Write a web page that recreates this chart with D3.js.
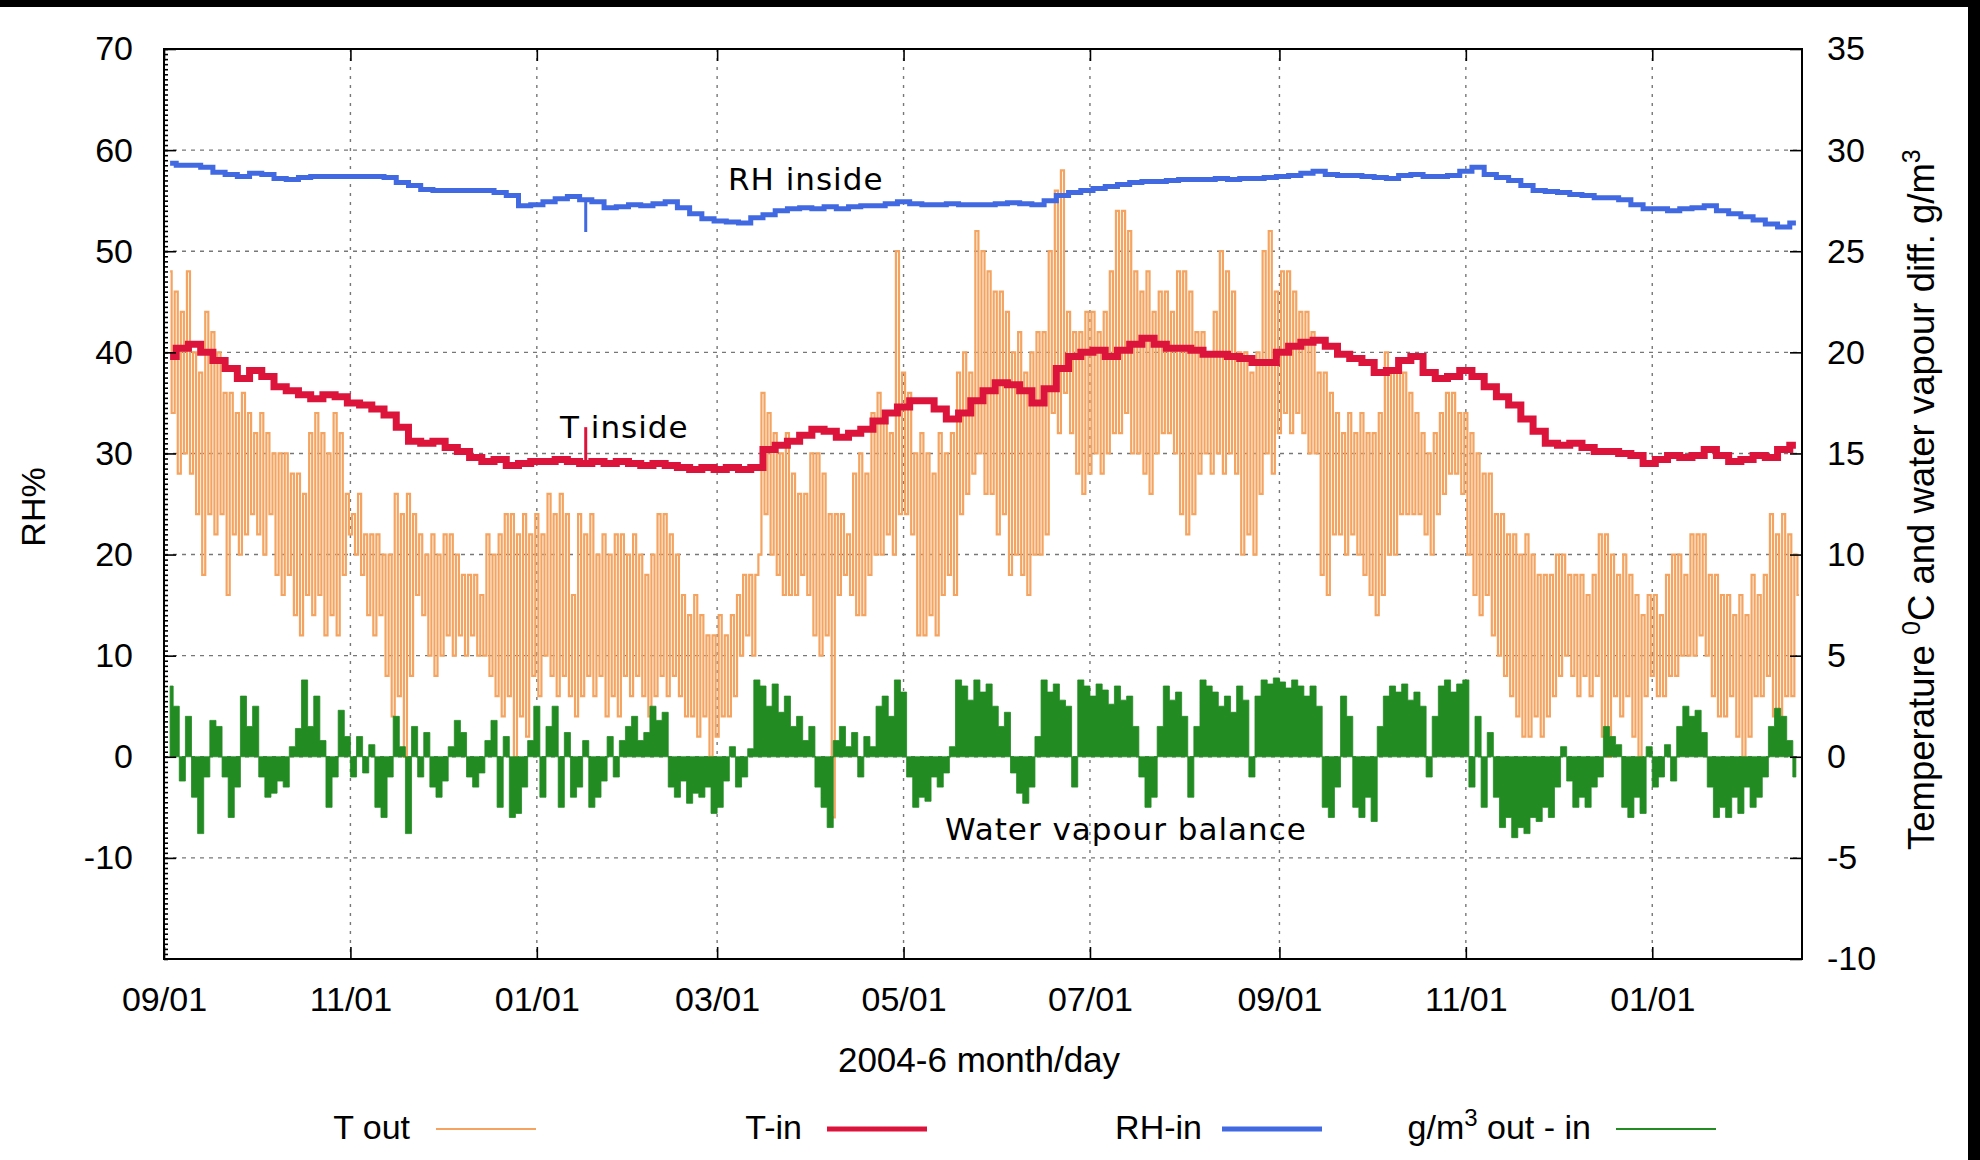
<!DOCTYPE html>
<html>
<head>
<meta charset="utf-8">
<script src="https://cdn.jsdelivr.net/npm/d3@7"></script>
<style>
  body { margin: 0; background: #fff; }
  text { font-family: "Liberation Sans", Arial, sans-serif; fill: #000; }
  text.note { font-family: "DejaVu Sans", sans-serif; }
</style>
</head>
<body>
<svg id="chart" width="1980" height="1160"></svg>
<script>
// series start 2004-09-03, tOut one value per day, vapour every 2 days, tIn / rhIn every 4 days
var seriesStart = Date.UTC(2004, 8, 3)
var DAY = 86400000

var tOut = [
  24,17,23,14,22,15,24,14,
  20,12,19,9,22,12,21,11,20,12,
  18,8,18,11,17,10,18,11,17,12,
  16,11,17,10,16,12,15,9,15,8,
  15,9,14,7,14,6,13,8,16,7,
  17,8,16,6,15,7,17,6,16,9,
  13,11,12,10,13,9,11,7,11,6,
  11,7,10,4,10,2,13,3,12,0,
  13,4,12,8,11,7,10,5,11,4,
  10,5,11,6,11,5,10,6,9,5,
  9,6,9,5,8,5,11,4,10,3,
  11,2,12,3,12,0,11,2,12,1,
  11,4,12,3,11,5,13,4,12,3,
  13,4,12,3,8,2,12,3,11,4,
  12,3,10,4,11,2,10,3,11,2,
  11,4,10,3,11,4,10,3,9,2,
  10,3,12,4,12,3,11,4,10,3,
  8,2,7,2,8,1,7,2,6,0,
  6,1,7,2,6,2,7,3,8,5,
  9,6,9,5,9,10,18,12,17,10,
  16,9,15,8,16,8,14,8,13,9,
  13,8,15,6,15,5,14,6,12,-3,
  12,8,12,9,11,8,14,7,15,7,
  14,9,17,10,18,10,17,11,16,10,
  25,12,19,12,18,11,15,6,16,6,
  15,7,14,6,16,8,15,9,16,8,
  19,12,20,13,19,14,26,15,25,13,
  24,13,23,11,23,12,22,9,20,10,
  21,9,19,8,20,10,21,10,21,11,
  25,17,28,16,29,18,22,16,21,14,
  21,13,22,14,22,15,21,14,22,15,
  24,16,27,16,27,17,26,15,24,15,
  23,14,24,13,22,15,23,16,23,16,
  22,15,24,12,24,11,23,12,21,14,
  21,15,20,14,22,15,25,14,24,15,
  23,14,20,10,20,11,19,10,20,13,
  25,15,26,14,23,16,24,17,24,16,
  23,17,22,16,22,15,21,15,19,9,
  19,8,18,11,17,11,16,10,17,11,
  16,10,17,9,16,8,16,7,17,8,
  20,10,19,10,19,12,19,12,18,12,
  17,12,16,11,15,10,16,12,17,13,
  18,14,18,14,17,13,17,10,16,8,
  15,7,14,8,14,6,12,5,12,4,
  11,3,11,2,10,1,11,1,10,2,
  9,1,9,2,9,3,10,4,10,5,
  9,4,9,3,9,4,8,3,9,4,
  11,1,11,0,10,3,9,2,10,3,
  9,1,8,0,7,3,8,4,8,3,
  7,3,9,4,10,4,10,5,9,5,
  11,5,11,6,11,5,9,3,9,2,
  8,2,8,3,7,1,8,0,7,1,
  9,3,8,3,9,4,12,2,11,1,
  12,3,11,3,10,8
]

var tIn = [
  19.8,20.2,20.4,20,19.6,19.2,18.7,19.1,18.8,18.3,
  18.1,17.9,17.7,17.9,17.8,17.5,17.4,17.2,16.9,16.3,
  15.6,15.5,15.6,15.3,15.1,14.8,14.6,14.7,14.4,14.5,
  14.6,14.6,14.7,14.6,14.5,14.6,14.5,14.6,14.5,14.4,
  14.5,14.4,14.3,14.2,14.3,14.2,14.3,14.2,14.3,15.2,
  15.4,15.6,15.9,16.2,16.1,15.8,16,16.2,16.6,17,
  17.3,17.6,17.6,17.2,16.7,17,17.6,18.1,18.5,18.4,
  18.1,17.5,18.2,19.2,19.8,20,20.1,19.8,20.1,20.4,
  20.7,20.4,20.2,20.2,20.1,19.9,19.9,19.8,19.7,19.5,
  19.5,20,20.3,20.5,20.6,20.3,19.9,19.7,19.5,19,
  19.1,19.6,19.8,19,18.7,18.8,19.1,18.8,18.3,17.8,
  17.4,16.7,16.1,15.5,15.4,15.5,15.3,15.1,15.1,15,
  14.9,14.5,14.7,14.9,14.8,14.9,15.2,14.9,14.6,14.7,
  14.9,14.8,15.2,15.4
]

var rhIn = [
  58.7,58.5,58.5,58.3,57.8,57.6,57.4,57.7,57.6,57.2,
  57.1,57.3,57.4,57.4,57.4,57.4,57.4,57.4,57.3,56.8,
  56.5,56.1,56,56,56,56,56,55.8,55.5,54.5,
  54.6,54.9,55.2,55.4,55.1,54.9,54.3,54.4,54.6,54.5,
  54.7,54.9,54.3,53.7,53.2,53,52.9,52.8,53.3,53.6,
  54,54.2,54.3,54.2,54.4,54.2,54.4,54.5,54.5,54.7,
  54.9,54.7,54.6,54.6,54.7,54.6,54.6,54.6,54.7,54.8,
  54.7,54.6,55,55.5,55.8,56,56.2,56.4,56.6,56.8,
  56.9,56.9,57,57.1,57.1,57.1,57.2,57.1,57.2,57.2,
  57.3,57.4,57.5,57.7,57.9,57.6,57.5,57.5,57.4,57.3,
  57.2,57.5,57.6,57.4,57.4,57.5,57.9,58.3,57.6,57.3,
  57,56.5,56,55.9,55.8,55.6,55.5,55.3,55.3,55.1,
  54.6,54.2,54.2,54,54.2,54.3,54.5,54,53.7,53.4,
  53.1,52.7,52.4,52.8
]

var vapour = [
  3.5,2.5,-1.2,2,-2,-3.8,-1,1.8,1.5,-1,-3,-1.5,3,1.5,2.5,-1,-2,-1.8,-1.2,-1.5,
  0.5,1.4,3.8,1.5,3,0.8,-2.5,-1,2.3,1,-1,1,-0.8,0.6,-2.5,-3,-1,2,0.5,-3.8,
  1.5,-1,1.2,-1.5,-2,-1.2,0.5,1.8,1.2,-1,-1.5,-0.8,0.8,1.8,-2.5,1,-3,-2.8,-1.5,0.8,
  2.5,-2,1.5,2.5,-2.5,1.2,-2,-1.5,0.8,-2.5,-2,-1.2,1,-1,0.8,1.5,2,0.8,1.2,2.5,
  1.8,2.2,-1.5,-2,-1.2,-2.3,-1.8,-2,-1.5,-2.8,-2.5,-1.2,0.5,-1.5,-1,0.4,3.8,3.5,2.5,3.6,
  2.2,3,1.5,2,0.8,1.5,-1.5,-2.5,-3.5,0.8,1.5,0.5,1.2,-1,1,0.5,2.5,3,2,3.8,
  3.2,-1,-2.5,-2,-2.2,-1,-1.5,-0.8,0.5,3.8,3.5,2.8,3.8,3.2,3.6,2.5,1.5,2.2,-0.8,-1.8,
  -2.3,-1.5,1,3.8,3.2,3.6,2.8,2.5,-1.5,3.8,3.5,3,3.6,3.3,2.6,3.5,2.8,3,1.5,-1,
  -2.5,-2,1.5,3.5,2.8,3.2,2,-2,1.5,3.8,3.5,3.2,2.5,3,2.2,3.5,2.8,-1,3,3.8,
  3.6,3.9,3.7,3.4,3.8,3.5,3,3.5,2.5,-2.5,-3,-1.5,3,2,-2.5,-3,-2,-3.2,1.5,3,
  3.5,3.2,3.6,2.8,3.2,2.5,-1,2,3.5,3.8,3.2,3.6,3.8,-1.5,2,-2.5,1.2,-2,-3.5,-3,
  -4,-3.5,-3.8,-3,-3.2,-2.5,-3,-1.5,0.5,-1.2,-2.5,-2,-2.5,-1.5,-1,1.5,1,0.6,-2.5,-3,
  -2,-2.8,0.5,-1.5,-1,0.6,-1.2,1.5,2.5,2,2.3,1.2,-1.5,-3,-2.5,-3,-2,-2.8,-1.5,-2.5,
  -2,-1,1.5,2.4,2,0.8,-1
]

// short one-off readings around 2005-01-17 (index into the 4-day series and the spike tip)
var spikeIndex = 34
var rhSpike = 51.9
var tInSpike = 16.3

var rhTicks = [70, 60, 50, 40, 30, 20, 10, 0, -10]
var tTicks = [35, 30, 25, 20, 15, 10, 5, 0, -5, -10]
var monthTicks = ['2004-09-01', '2004-11-01', '2005-01-01', '2005-03-01', '2005-05-01',
                  '2005-07-01', '2005-09-01', '2005-11-01', '2006-01-01']
var legendNames = ['T out', 'T-in', 'RH-in', 'g/m3 out - in']

var colors = { tOut: '#f4a460', tIn: '#dc143c', rhIn: '#4169e1', vapour: '#228b22' }

// plot frame (window.top is read-only, so no "top" variable)
var pL = 164, pR = 1802, pT = 49, pB = 959

var svg = d3.select('#chart')

svg.append('rect').attr('width', 1980).attr('height', 1160).attr('fill', '#fff')

var x = d3.scaleUtc()
    .domain([new Date(Date.UTC(2004, 8, 1)), new Date(Date.UTC(2006, 1, 19))])
    .range([pL, pR])
var yL = d3.scaleLinear().domain([-20, 70]).range([pB, pT])
var yR = d3.scaleLinear().domain([-10, 35]).range([pB, pT])

var tickDates = monthTicks.map(function(s){ return new Date(s + 'T00:00:00Z') })
function dayAt(i, step){ return new Date(seriesStart + i * step * DAY) }

// grid
svg.append('g')
    .selectAll('line')
    .data(rhTicks.filter(function(d){ return d < 70 }))
    .enter()
    .append('line')
    .attr('x1', pL).attr('x2', pR)
    .attr('y1', function(d){ return yL(d) })
    .attr('y2', function(d){ return yL(d) })
    .attr('stroke', '#777').attr('stroke-width', 1.4)
    .attr('stroke-dasharray', '4,5')

svg.append('g')
    .selectAll('line')
    .data(tickDates.slice(1))
    .enter()
    .append('line')
    .attr('x1', function(d){ return x(d) })
    .attr('x2', function(d){ return x(d) })
    .attr('y1', pT).attr('y2', pB)
    .attr('stroke', '#777').attr('stroke-width', 1.4)
    .attr('stroke-dasharray', '3,6')

// data
svg.append('clipPath').attr('id', 'plotclip')
    .append('rect')
    .attr('x', pL).attr('y', pT)
    .attr('width', pR - pL).attr('height', pB - pT)

var plot = svg.append('g').attr('clip-path', 'url(#plotclip)')

var tOutLine = d3.line()
    .curve(d3.curveStep)
    .x(function(d, i){ return x(dayAt(i, 1)) })
    .y(function(d){ return yR(d) })

plot.append('path')
    .attr('d', tOutLine(tOut))
    .attr('fill', 'none')
    .attr('stroke', colors.tOut)
    .attr('stroke-width', 2.2)

var tInLine = d3.line()
    .curve(d3.curveStep)
    .x(function(d, i){ return x(dayAt(i, 4)) })
    .y(function(d){ return yR(d) })

plot.append('path')
    .attr('d', tInLine(tIn))
    .attr('fill', 'none')
    .attr('stroke', colors.tIn)
    .attr('stroke-width', 7)

plot.append('line')
    .attr('x1', x(dayAt(spikeIndex, 4))).attr('x2', x(dayAt(spikeIndex, 4)))
    .attr('y1', yR(tIn[spikeIndex])).attr('y2', yR(tInSpike))
    .attr('stroke', colors.tIn).attr('stroke-width', 3)

var rhLine = d3.line()
    .curve(d3.curveStep)
    .x(function(d, i){ return x(dayAt(i, 4)) })
    .y(function(d){ return yL(d) })

plot.append('path')
    .attr('d', rhLine(rhIn))
    .attr('fill', 'none')
    .attr('stroke', colors.rhIn)
    .attr('stroke-width', 5)

plot.append('line')
    .attr('x1', x(dayAt(spikeIndex, 4))).attr('x2', x(dayAt(spikeIndex, 4)))
    .attr('y1', yL(rhIn[spikeIndex])).attr('y2', yL(rhSpike))
    .attr('stroke', colors.rhIn).attr('stroke-width', 3)

var vapourArea = d3.area()
    .curve(d3.curveStep)
    .x(function(d, i){ return x(dayAt(i, 2)) })
    .y0(yR(0))
    .y1(function(d){ return yR(d) })

plot.append('path')
    .attr('d', vapourArea(vapour))
    .attr('fill', colors.vapour)
    .attr('stroke', colors.vapour)
    .attr('stroke-width', 0.8)

// axes
function styleAxis(g){
    g.attr('font-size', 34)
    g.select('.domain').remove()
    g.selectAll('.tick line').attr('stroke', '#000').attr('stroke-width', 1.6)
    g.selectAll('.tick text').attr('fill', '#000')
}

svg.append('g')
    .attr('transform', 'translate(' + pL + ',0)')
    .call(d3.axisLeft(yL).tickValues(rhTicks).tickSize(-12).tickPadding(31)
        .tickFormat(function(d){ return String(d) }))
    .call(styleAxis)

svg.append('g')
    .attr('transform', 'translate(' + pL + ',0)')
    .call(d3.axisLeft(yL).tickValues(d3.range(-20, 70.01, 0.5)).tickSize(-4).tickFormat(''))
    .call(styleAxis)

svg.append('g')
    .attr('transform', 'translate(' + pR + ',0)')
    .call(d3.axisRight(yR).tickValues(tTicks).tickSize(-12).tickPadding(25)
        .tickFormat(function(d){ return String(d) }))
    .call(styleAxis)

svg.append('g')
    .attr('transform', 'translate(0,' + pB + ')')
    .call(d3.axisBottom(x).tickValues(tickDates).tickSize(-12).tickPadding(28)
        .tickFormat(d3.utcFormat('%m/%d')))
    .call(styleAxis)

svg.append('g')
    .attr('transform', 'translate(0,' + pT + ')')
    .call(d3.axisTop(x).tickValues(tickDates).tickSize(-12).tickFormat(''))
    .call(styleAxis)

svg.append('rect')
    .attr('x', pL).attr('y', pT)
    .attr('width', pR - pL).attr('height', pB - pT)
    .attr('fill', 'none').attr('stroke', '#000').attr('stroke-width', 2)

// labels inside the plot
function note(txt, px, py){
    svg.append('text')
        .attr('class', 'note')
        .attr('x', px).attr('y', py)
        .attr('font-size', 31).attr('letter-spacing', 1)
        .text(txt)
}
note('RH inside', 728, 190)
note('T inside', 560, 438)
note('Water vapour balance', 945, 840)

// axis titles
svg.append('text')
    .attr('x', 979).attr('y', 1072)
    .attr('text-anchor', 'middle').attr('font-size', 35)
    .text('2004-6 month/day')

svg.append('text')
    .attr('transform', 'translate(45,507) rotate(-90)')
    .attr('text-anchor', 'middle').attr('font-size', 34)
    .text('RH%')

var rt = svg.append('text')
    .attr('transform', 'translate(1934,850) rotate(-90)')
    .attr('font-size', 36.5)
rt.append('tspan').text('Temperature  ')
rt.append('tspan').attr('font-size', 25).attr('dy', -14).text('0')
rt.append('tspan').attr('dy', 14).text('C and water vapour diff. g/m')
rt.append('tspan').attr('font-size', 25).attr('dy', -14).text('3')

// legend
var legendStyle = [
    { key: 'tOut', width: 2, end: 410, line: 436 },
    { key: 'tIn', width: 5, end: 802, line: 827 },
    { key: 'rhIn', width: 5, end: 1202, line: 1222 },
    { key: 'vapour', width: 2, end: 1591, line: 1616 }
]
legendNames.forEach(function(name, i){
    var s = legendStyle[i]
    var t = svg.append('text')
        .attr('x', s.end).attr('y', 1139)
        .attr('text-anchor', 'end').attr('font-size', 34)
    if (name.indexOf('m3') >= 0) {
        t.append('tspan').text('g/m')
        t.append('tspan').attr('font-size', 24).attr('dy', -13).text('3')
        t.append('tspan').attr('dy', 13).text(' out - in')
    } else {
        t.text(name)
    }
    svg.append('line')
        .attr('x1', s.line).attr('x2', s.line + 100)
        .attr('y1', 1129).attr('y2', 1129)
        .attr('stroke', colors[s.key]).attr('stroke-width', s.width)
})

// black frame edges of the picture
svg.append('rect').attr('x', 0).attr('y', 0).attr('width', 1980).attr('height', 7).attr('fill', '#000')
svg.append('rect').attr('x', 1968).attr('y', 0).attr('width', 12).attr('height', 1160).attr('fill', '#000')
</script>
</body>
</html>
